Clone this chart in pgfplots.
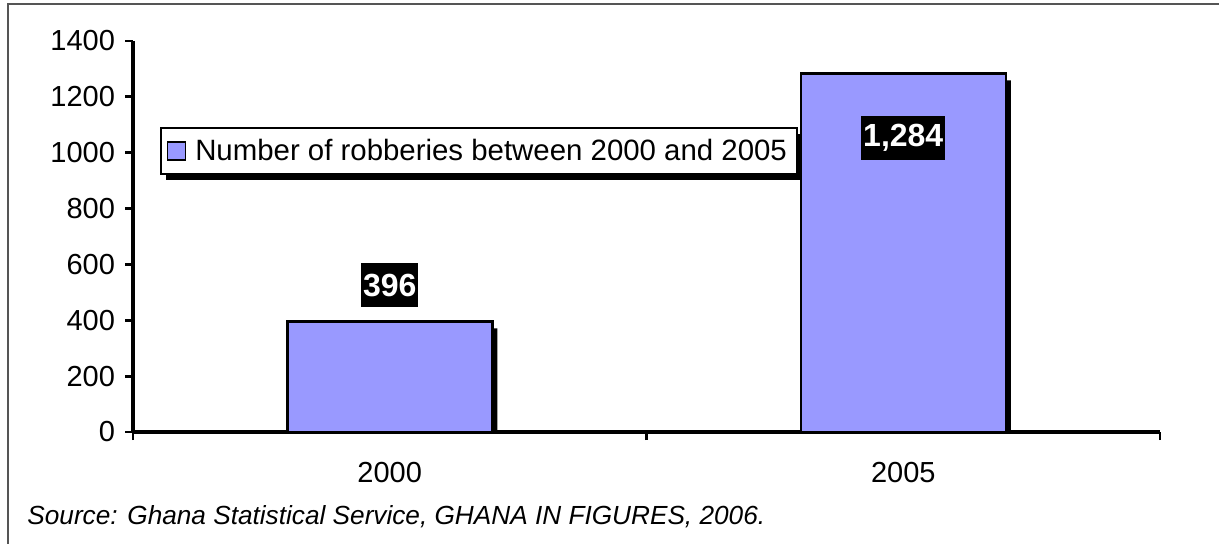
\documentclass[border=0pt]{standalone}
\usepackage{pgfplots}
\pgfplotsset{compat=1.18}
\usepackage{fontspec}
\setmainfont{Liberation Sans}
\usetikzlibrary{shadows}
\definecolor{barcol}{HTML}{9999FF}
\definecolor{framecol}{HTML}{555555}
\pgfplotstableread{
x y label
0 526 396
1 1053 1,284
}\labeltable
\begin{document}
\begin{tikzpicture}
\useasboundingbox (0,0) rectangle (609.5pt,-272pt);
\draw[framecol, line width=1pt] (3.75pt,-272pt) -- (3.75pt,-2.25pt) -- (609.5pt,-2.25pt);
\begin{axis}[
  at={(66.5pt,-216pt)}, anchor=south west,
  scale only axis, width=513.5pt, height=195.5pt,
  xmin=-0.5, xmax=1.5, ymin=0, ymax=1400,
  axis x line=bottom, axis y line=left,
  axis line style={-, line width=1.75pt, black},
  tick align=outside, major tick length=4pt,
  tick style={line width=1.4pt, black},
  ytick={0,200,...,1400},
  xtick={-0.5,0.5,1.5}, xticklabels={},
  extra x ticks={0,1}, extra x tick labels={2000,2005},
  extra x tick style={major tick length=0pt, xticklabel style={yshift=-11.5pt}},
  tick label style={font=\fontsize{14.5}{17}\selectfont},
  yticklabel style={xshift=-1.5pt},
  /pgf/number format/assume math mode=true,
  /pgf/number format/1000 sep={},
  legend style={at={(0.0263,0.780)}, anchor=north west, draw=black, line width=0.75pt,
    fill=white, font=\fontsize{14.7}{17}\selectfont, inner xsep=3pt, inner ysep=3.5pt,
    drop shadow={shadow xshift=2.5pt, shadow yshift=-3pt, fill=black, opacity=1}},
  legend image code/.code={%
    \pgfsetlinewidth{0.75pt}\pgfsetfillcolor{barcol}\pgfsetstrokecolor{black}%
    \pgfpathrectangle{\pgfpoint{0pt}{-4.5pt}}{\pgfpoint{9pt}{9pt}}\pgfusepath{fill,stroke}},
]
\addplot[ybar, bar width=102.5pt, bar shift=2.5pt, yshift=-3.5pt, fill=black, draw=none, forget plot]
  coordinates {(0,396) (1,1284)};
\addplot[ybar, bar width=102.5pt, bar shift=0pt, fill=barcol, draw=black, line width=1.25pt]
  coordinates {(0,396) (1,1284)};
\addlegendentry{\hspace{2.5pt}Number of robberies between 2000 and 2005\hspace{9pt}}
\addplot[only marks, mark=none, forget plot, nodes near coords, point meta=explicit symbolic,
  every node near coord/.style={anchor=center, fill=black, text=white,
    font=\bfseries\fontsize{16}{18}\selectfont, inner xsep=1pt, minimum height=22pt}]
  table[x=x, y=y, meta=label] {\labeltable};
\end{axis}
\node[anchor=base west, inner sep=0pt, font=\itshape\fontsize{13.1}{16}\selectfont] at (13.5pt,-262pt)
  {Source: Ghana Statistical Service, GHANA IN FIGURES, 2006.};
\end{tikzpicture}
\end{document}
